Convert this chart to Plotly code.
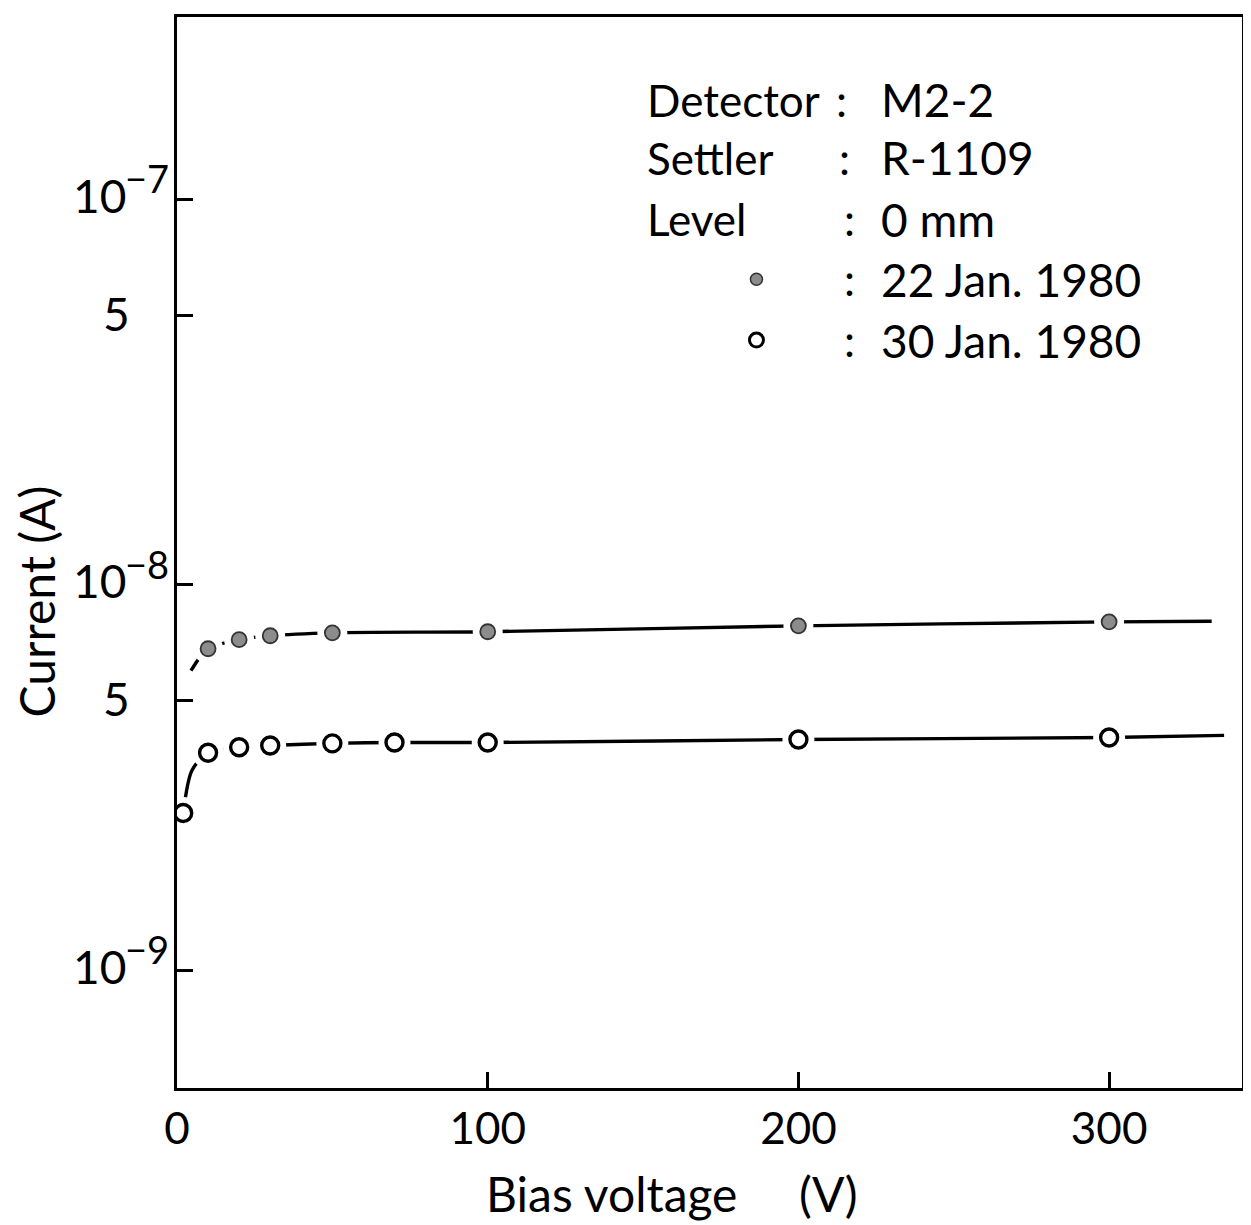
import math
import plotly.graph_objects as go

# ---------------- data ----------------
# 22 Jan. 1980 (filled circles)
v_jan22 = [10, 20, 30, 50, 100, 200, 300]
i_jan22 = [6.83e-9, 7.21e-9, 7.38e-9, 7.51e-9, 7.56e-9, 7.83e-9, 8.02e-9]
# hand-drawn fitted curve through the 22 Jan. points
curve_v_jan22 = [4.5, 7, 10, 20, 30, 50, 100, 200, 300, 333]
curve_i_jan22 = [5.99e-9, 6.43e-9, 6.83e-9, 7.21e-9, 7.38e-9, 7.51e-9, 7.56e-9, 7.83e-9, 8.02e-9, 8.05e-9]

# 30 Jan. 1980 (open circles)
v_jan30 = [2, 10, 20, 30, 50, 70, 100, 200, 300]
i_jan30 = [2.56e-9, 3.67e-9, 3.79e-9, 3.83e-9, 3.88e-9, 3.90e-9, 3.90e-9, 3.97e-9, 4.02e-9]
curve_v_jan30 = [2, 4.8, 10, 20, 30, 50, 70, 100, 200, 300, 337]
curve_i_jan30 = [2.56e-9, 3.30e-9, 3.67e-9, 3.79e-9, 3.83e-9, 3.88e-9, 3.90e-9, 3.90e-9, 3.97e-9, 4.02e-9, 4.07e-9]

x_tick_vals = [0, 100, 200, 300]
x_tick_text = ["0", "100", "200", "300"]
y_decade_vals = [1e-9, 1e-8, 1e-7]
y_decade_exps = ["\u22129", "\u22128", "\u22127"]
y_five_vals = [5e-9, 5e-8]
y_five_text = ["5", "5"]

legend_labels = ["Detector", "Settler", "Level", "", ""]
legend_values = ["M2-2", "R-1109", "0 mm", "22 Jan. 1980", "30 Jan. 1980"]

# ---------------- layout geometry ----------------
OFF = 8                      # page body margin in the browser
W, H = 1251 - OFF, 1225 - OFF
# plot frame in page pixels (reference): left 177, right 1243, top 14, bottom 1088
FL, FR, FT, FB = 177, 1243, 14, 1088
L = FL - OFF
T = FT - OFF
R = (W + OFF) - FR
B = (H + OFF) - FB
PW = FR - FL
PH = FB - FT
FONT = "Lato"


def px(xp):
    return (xp - FL) / PW


def py(yp):
    return (FB - yp) / PH


fig = go.Figure()

line_style = dict(color="black", width=3.4, shape="spline", smoothing=0.8)
fig.add_trace(go.Scatter(x=curve_v_jan22, y=curve_i_jan22, mode="lines",
                         line=line_style, hoverinfo="skip", showlegend=False))
fig.add_trace(go.Scatter(x=curve_v_jan30, y=curve_i_jan30, mode="lines",
                         line=line_style, hoverinfo="skip", showlegend=False))

# white halos produce the gaps in the drawn line around each point
fig.add_trace(go.Scatter(x=v_jan22, y=i_jan22, mode="markers",
                         marker=dict(size=30, color="white", line=dict(width=0)),
                         hoverinfo="skip", showlegend=False))
fig.add_trace(go.Scatter(x=v_jan30, y=i_jan30, mode="markers",
                         marker=dict(size=32, color="white", line=dict(width=0)),
                         hoverinfo="skip", showlegend=False))

fig.add_trace(go.Scatter(x=v_jan22, y=i_jan22, mode="markers", name="22 Jan. 1980",
                         marker=dict(size=15, color="#8c8c8c", line=dict(color="#333333", width=1.8)),
                         showlegend=False))
fig.add_trace(go.Scatter(x=v_jan30, y=i_jan30, mode="markers", name="30 Jan. 1980",
                         marker=dict(size=17, color="white", line=dict(color="black", width=3.4)),
                         showlegend=False))

yhi = -7 + (197 - FT) / 386.5
ylo = yhi - PH / 386.5
x_per_px = 300 / (1110 - FL)
xhi = PW * x_per_px

annotations = []
# y tick labels: 10^n and 5
for val, ex in zip(y_decade_vals, y_decade_exps):
    annotations.append(dict(x=px(128), xref="paper", y=math.log10(val), yref="y",
                            text="10", showarrow=False, xanchor="right", yanchor="middle",
                            yshift=4, font=dict(family=FONT, size=46, color="black")))
    annotations.append(dict(x=px(123), xref="paper", y=math.log10(val), yref="y",
                            text=ex, showarrow=False, xanchor="left", yanchor="middle",
                            yshift=21, font=dict(family=FONT, size=38, color="black")))
for val, t in zip(y_five_vals, y_five_text):
    annotations.append(dict(x=px(132), xref="paper", y=math.log10(val), yref="y",
                            text=t, showarrow=False, xanchor="right", yanchor="middle",
                            yshift=2, font=dict(family=FONT, size=46, color="black")))

# axis titles
annotations.append(dict(x=px(36), xref="paper", y=py(600), yref="paper", text="Current (A)",
                        textangle=-90, showarrow=False, xanchor="center", yanchor="middle",
                        font=dict(family=FONT, size=48, color="black")))
annotations.append(dict(x=px(672), xref="paper", y=py(1194), yref="paper",
                        text="Bias voltage\u00a0\u00a0\u00a0\u00a0\u00a0(V)",
                        showarrow=False, xanchor="center", yanchor="middle",
                        font=dict(family=FONT, size=48, color="black")))

# legend block
rows_y = [97, 155, 217, 277, 338]
colon_x = [842, 845, 850, 850, 850]
for lab, val, ry, cx in zip(legend_labels, legend_values, rows_y, colon_x):
    if lab:
        annotations.append(dict(x=px(645), xref="paper", y=py(ry), yref="paper", text=lab,
                                showarrow=False, xanchor="left", yanchor="middle",
                                font=dict(family=FONT, size=44, color="black")))
    annotations.append(dict(x=px(cx), xref="paper", y=py(ry), yref="paper", text=":",
                            showarrow=False, xanchor="center", yanchor="middle",
                            font=dict(family=FONT, size=44, color="black")))
    annotations.append(dict(x=px(880), xref="paper", y=py(ry), yref="paper", text=val,
                            showarrow=False, xanchor="left", yanchor="middle",
                            font=dict(family=FONT, size=46, color="black")))

shapes = [
    dict(type="circle", xref="paper", yref="paper", xsizemode="pixel", ysizemode="pixel",
         xanchor=px(757), yanchor=py(277), x0=-6, x1=6, y0=-6, y1=6,
         fillcolor="#8c8c8c", line=dict(color="#333333", width=1.5)),
    dict(type="circle", xref="paper", yref="paper", xsizemode="pixel", ysizemode="pixel",
         xanchor=px(757), yanchor=py(338), x0=-7, x1=7, y0=-7, y1=7,
         fillcolor="white", line=dict(color="black", width=3)),
]

fig.update_layout(
    width=W, height=H,
    margin=dict(l=L, r=R, t=T, b=B),
    paper_bgcolor="white", plot_bgcolor="white",
    showlegend=False,
    annotations=annotations,
    shapes=shapes,
    xaxis=dict(range=[0, xhi], tickvals=x_tick_vals, ticktext=x_tick_text,
               ticks="inside", ticklen=16, tickwidth=3, tickcolor="black",
               showline=True, linecolor="black", linewidth=3, mirror=True,
               showgrid=False, zeroline=False, ticklabelstandoff=0,
               tickfont=dict(family=FONT, size=44, color="black")),
    yaxis=dict(type="log", range=[ylo, yhi],
               tickvals=y_decade_vals + y_five_vals, ticks="inside", ticklen=16,
               tickwidth=3, tickcolor="black", showticklabels=False,
               showline=True, linecolor="black", linewidth=3, mirror=True,
               showgrid=False, zeroline=False),
)

fig.write_html("out.html")
